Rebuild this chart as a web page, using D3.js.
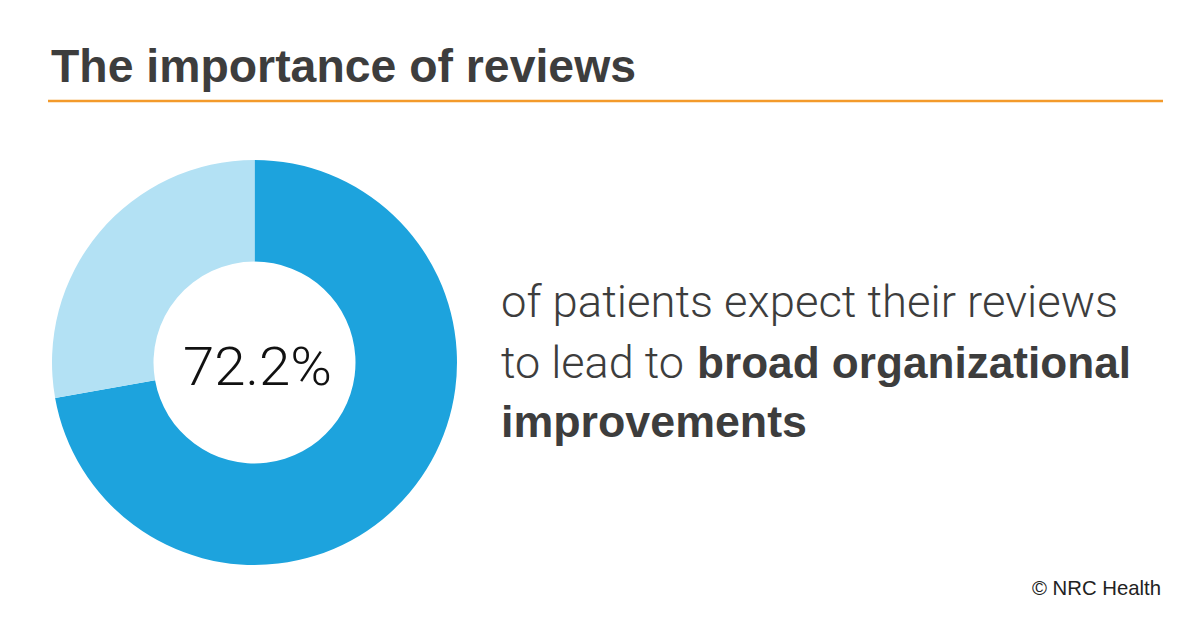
<!DOCTYPE html>
<html><head><meta charset="utf-8">
<script src="https://cdn.jsdelivr.net/npm/d3@7"></script>
<style>html,body{margin:0;padding:0;background:#fff;}svg{display:block;}</style>
</head><body>
<script>
const title = "The importance of reviews";
const categories = ["Expect broad improvements", "Other"];
const values = [72.2, 27.8];
const colors = ["#1DA3DD", "#B3E1F4"];
const centerLabel = "72.2%";
const descLines = ["of patients expect their reviews", "to lead to", "broad organizational", "improvements"];
const source = "© NRC Health";

const W = 1201, H = 629;
const svg = d3.select("body").append("svg").attr("width", W).attr("height", H);

svg.append("text").attr("x", 51).attr("y", 82)
  .attr("font-family", "Liberation Sans, Arial, sans-serif").attr("font-weight", 700)
  .attr("font-size", 47).attr("fill", "#3d3d3d")
  .attr("textLength", 585).attr("lengthAdjust", "spacingAndGlyphs")
  .text(title);

svg.append("line").attr("x1", 48).attr("x2", 1163).attr("y1", 101).attr("y2", 101)
  .attr("stroke", "#F39A2B").attr("stroke-width", 2.5);

const pie = d3.pie().sort(null).value(d => d)(values);
const arc = d3.arc().innerRadius(101).outerRadius(202.5);
const g = svg.append("g").attr("transform", "translate(254.5,362.5)");
g.selectAll("path").data(pie).join("path")
  .attr("d", arc).attr("fill", (d, i) => colors[i]);

svg.append("text").attr("x", 183).attr("y", 385)
  .attr("font-family", "Roboto, Liberation Sans, sans-serif").attr("font-weight", 300)
  .attr("font-size", 53).attr("fill", "#111")
  .attr("textLength", 149).attr("lengthAdjust", "spacingAndGlyphs")
  .text(centerLabel);

const light = {fam: "Roboto, Liberation Sans, sans-serif", w: 300};
const bold = {fam: "Liberation Sans, Arial, sans-serif", w: 700};
function t(str, x, y, len, f) {
  svg.append("text").attr("x", x).attr("y", y)
    .attr("font-family", f.fam).attr("font-weight", f.w)
    .attr("font-size", 44).attr("fill", "#3d3d3d")
    .attr("textLength", len).attr("lengthAdjust", "spacingAndGlyphs")
    .text(str);
}
t(descLines[0], 501, 317, 617, light);
t(descLines[1], 501, 378, 183, light);
t(descLines[2], 697, 378, 434, bold);
t(descLines[3], 501, 437, 306, bold);

svg.append("text").attr("x", 1032).attr("y", 595)
  .attr("font-family", "Liberation Sans, Arial, sans-serif")
  .attr("font-size", 21).attr("fill", "#222")
  .attr("textLength", 129).attr("lengthAdjust", "spacingAndGlyphs")
  .text(source);
</script>
</body></html>
